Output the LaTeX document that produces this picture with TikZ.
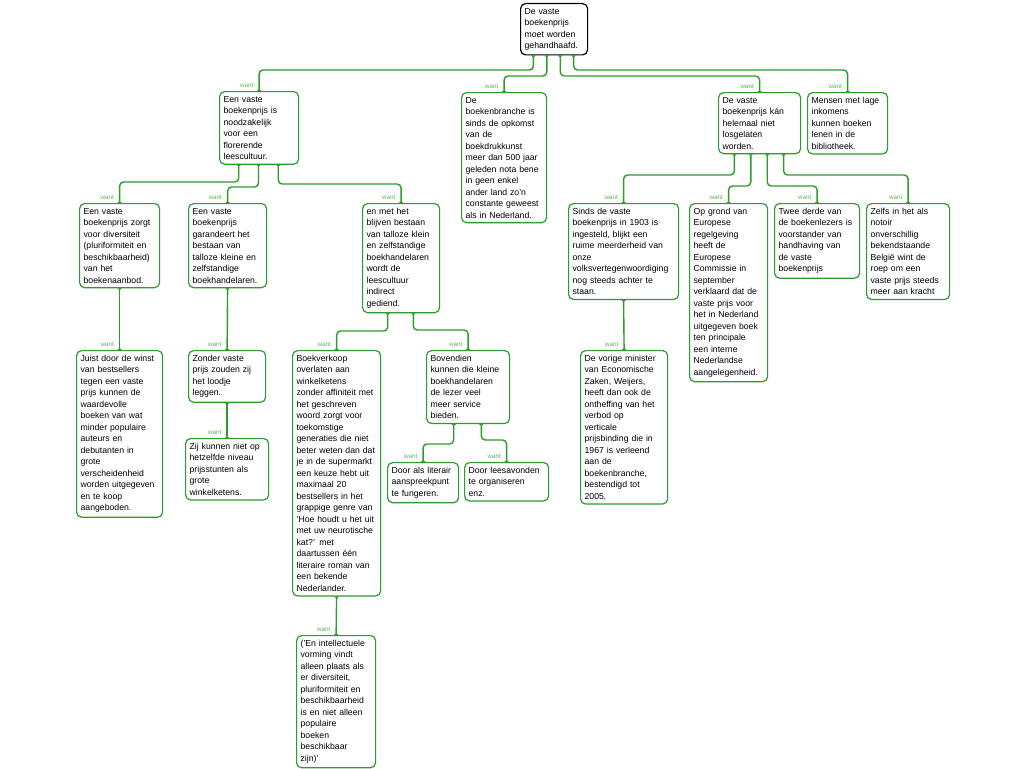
\documentclass[tikz,border=0pt]{standalone}
\usepackage{fontspec}
\setmainfont{Liberation Sans}
\usetikzlibrary{arrows.meta}
\definecolor{mapgreen}{RGB}{45,155,45}
\definecolor{wantgreen}{RGB}{95,180,95}

\begin{document}
\begin{tikzpicture}[x=1pt,y=-1pt,
    argbox/.style={draw=mapgreen, line width=1.2pt, rounded corners=5pt, fill=white, align=left, anchor=north west, inner xsep=4pt, inner ysep=4.5pt, font=\fontsize{8.7}{11.5}\selectfont},
    rootbox/.style={argbox, draw=black},
    link/.style={draw=mapgreen, line width=1.4pt, rounded corners=4pt, {Triangle[reversed,width=4.5pt,length=2pt]}-{Triangle[reversed,width=4.5pt,length=2pt]}},
    wantlbl/.style={font=\fontsize{6.3}{7}\selectfont, text=wantgreen, anchor=south east, pos=1, inner sep=0pt, xshift=-5pt, yshift=2.5pt}]
    \useasboundingbox[fill=white] (0,0) rectangle (1024,768);
    % Draw the main claim
    \node[rootbox, text width=59pt] (root) at (520,3) {De vaste\\boekenprijs\\moet worden\\gehandhaafd.};
    % First row of reasons
    \node[argbox, text width=71pt] (cult) at (219,91) {Een vaste\\boekenprijs is\\noodzakelijk\\voor een\\florerende\\leescultuur.};
    \node[argbox, text width=77pt] (branche) at (461,92) {De\\boekenbranche is\\sinds de opkomst\\van de\\boekdrukkunst\\meer dan 500 jaar\\geleden nota bene\\in geen enkel\\ander land zo'n\\constante geweest\\als in Nederland.};
    \node[argbox, text width=74pt] (loslaten) at (718,92) {De vaste\\boekenprijs kán\\helemaal niet\\losgelaten\\worden.};
    \node[argbox, text width=72pt] (biblio) at (807,92) {Mensen met lage\\inkomens\\kunnen boeken\\lenen in de\\bibliotheek.};
    % Second row
    \node[argbox, text width=72pt] (divers) at (79,203) {Een vaste\\boekenprijs zorgt\\voor diversiteit\\(pluriformiteit en\\beschikbaarheid)\\van het\\boekenaanbod.};
    \node[argbox, text width=70pt] (handel) at (188,203) {Een vaste\\boekenprijs\\garandeert het\\bestaan van\\talloze kleine en\\zelfstandige\\boekhandelaren.};
    \node[argbox, text width=69pt] (indirect) at (362,203) {en met het\\blijven bestaan\\van talloze klein\\en zelfstandige\\boekhandelaren\\wordt de\\leescultuur\\indirect\\gediend.};
    \node[argbox, text width=102pt] (kamer) at (568,203) {Sinds de vaste\\boekenprijs in 1903 is\\ingesteld, blijkt een\\ruime meerderheid van\\onze\\volksvertegenwoordiging\\nog steeds achter te\\staan.};
    \node[argbox, text width=70pt] (europa) at (689,203) {Op grond van\\Europese\\regelgeving\\heeft de\\Europese\\Commissie in\\september\\verklaard dat de\\vaste prijs voor\\het in Nederland\\uitgegeven boek\\ten principale\\een interne\\Nederlandse\\aangelegenheid.};
    \node[argbox, text width=77pt] (lezers) at (774,203) {Twee derde van\\de boekenlezers is\\voorstander van\\handhaving van\\de vaste\\boekenprijs};
    \node[argbox, text width=75pt] (belgie) at (866,203) {Zelfs in het als\\notoir\\onverschillig\\bekendstaande\\België wint de\\roep om een\\vaste prijs steeds\\meer aan kracht};
    % Third row and below
    \node[argbox, text width=78pt] (winst) at (76,350) {Juist door de winst\\van bestsellers\\tegen een vaste\\prijs kunnen de\\waardevolle\\boeken van wat\\minder populaire\\auteurs en\\debutanten in\\grote\\verscheidenheid\\worden uitgegeven\\en te koop\\aangeboden.};
    \node[argbox, text width=69pt] (loodje) at (188,350) {Zonder vaste\\prijs zouden zij\\het loodje\\leggen.};
    \node[argbox, text width=75pt] (stunten) at (185,438) {Zij kunnen niet op\\hetzelfde niveau\\prijsstunten als\\grote\\winkelketens.};
    \node[argbox, text width=80pt] (ketens) at (292,350) {Boekverkoop\\overlaten aan\\winkelketens\\zonder affiniteit met\\het geschreven\\woord zorgt voor\\toekomstige\\generaties die niet\\beter weten dan dat\\je in de supermarkt\\een keuze hebt uit\\maximaal 20\\bestsellers in het\\grappige genre van\\'Hoe houdt u het uit\\met uw neurotische\\kat?' met\\daartussen één\\literaire roman van\\een bekende\\Nederlander.};
    \node[argbox, text width=71pt] (vorming) at (296,635) {('En intellectuele\\vorming vindt\\alleen plaats als\\er diversiteit,\\pluriformiteit en\\beschikbaarheid\\is en niet alleen\\populaire\\boeken\\beschikbaar\\zijn)'};
    \node[argbox, text width=75pt] (service) at (426,350) {Bovendien\\kunnen die kleine\\boekhandelaren\\de lezer veel\\meer service\\bieden.};
    \node[argbox, text width=63pt] (literair) at (387,462) {Door als literair\\aanspreekpunt\\te fungeren.};
    \node[argbox, text width=76pt] (avonden) at (464,462) {Door leesavonden\\te organiseren\\enz.};
    \node[argbox, text width=79pt] (minister) at (580,350) {De vorige minister\\van Economische\\Zaken, Weijers,\\heeft dan ook de\\ontheffing van het\\verbod op\\verticale\\prijsbinding die in\\1967 is verleend\\aan de\\boekenbranche,\\bestendigd tot\\2005.};
    % Connect the claims
    \draw[link] ([xshift=13.4pt]root.south west) |- ([yshift=21pt]cult.north) -- node[wantlbl] {want} (cult.north);
    \draw[link] ([xshift=26.8pt]root.south west) |- ([yshift=16pt]branche.north) -- node[wantlbl] {want} (branche.north);
    \draw[link] ([xshift=40.2pt]root.south west) |- ([yshift=16pt]loslaten.north) -- node[wantlbl] {want} (loslaten.north);
    \draw[link] ([xshift=53.6pt]root.south west) |- ([yshift=22pt]biblio.north) -- node[wantlbl] {want} (biblio.north);
    \draw[link] ([xshift=19.75pt]cult.south west) |- ([yshift=21pt]divers.north) -- node[wantlbl] {want} (divers.north);
    \draw[link] ([xshift=39.5pt]cult.south west) |- ([yshift=16pt]handel.north) -- node[wantlbl] {want} (handel.north);
    \draw[link] ([xshift=59.25pt]cult.south west) |- ([yshift=19pt]indirect.north) -- node[wantlbl] {want} (indirect.north);
    \draw[link] ([xshift=16.4pt]loslaten.south west) |- ([yshift=28pt]kamer.north) -- node[wantlbl] {want} (kamer.north);
    \draw[link] ([xshift=32.8pt]loslaten.south west) |- ([yshift=17pt]europa.north) -- node[wantlbl] {want} (europa.north);
    \draw[link] ([xshift=49.2pt]loslaten.south west) |- ([yshift=17pt]lezers.north) -- node[wantlbl] {want} (lezers.north);
    \draw[link] ([xshift=65.6pt]loslaten.south west) |- ([yshift=28pt]belgie.north) -- node[wantlbl] {want} (belgie.north);
    \draw[link] ([xshift=25.7pt]indirect.south west) |- ([yshift=19pt]ketens.north) -- node[wantlbl] {want} (ketens.north);
    \draw[link] ([xshift=51.3pt]indirect.south west) |- ([yshift=20pt]service.north) -- node[wantlbl] {want} (service.north);
    \draw[link] ([xshift=27.7pt]service.south west) |- ([yshift=18pt]literair.north) -- node[wantlbl] {want} (literair.north);
    \draw[link] ([xshift=55.3pt]service.south west) |- ([yshift=22pt]avonden.north) -- node[wantlbl] {want} (avonden.north);
    \draw[link] (divers.south) -- node[wantlbl] {want} (winst.north);
    \draw[link] (handel.south) -- node[wantlbl] {want} (loodje.north);
    \draw[link] (loodje.south) -- node[wantlbl] {want} (stunten.north);
    \draw[link] (ketens.south) -- node[wantlbl] {want} (vorming.north);
    \draw[link] (kamer.south) -- node[wantlbl] {want} (minister.north);
\end{tikzpicture}
\end{document}
